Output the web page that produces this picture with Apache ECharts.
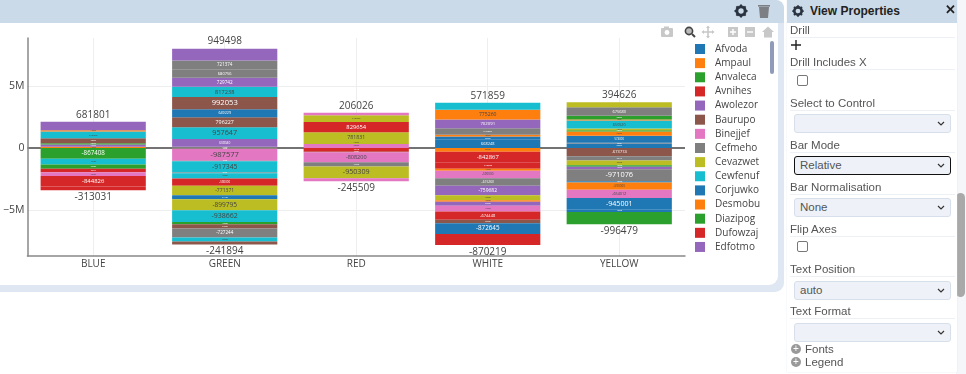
<!DOCTYPE html>
<html><head><meta charset="utf-8">
<script src="https://cdn.jsdelivr.net/npm/echarts@6/dist/echarts.min.js"></script>
<style>
html,body{margin:0;padding:0;background:#fff;overflow:hidden;width:966px;height:374px;font-family:"Liberation Sans",Arial,sans-serif;color:#555}
.abs{position:absolute}
#strip{left:0;top:0;width:784px;height:292px;background:#dfe7f2;border-radius:0 9px 9px 0}
#bar{left:0;top:0;width:784px;height:23px;background:#cbdae8;border-radius:0 8px 0 0}
#card{left:0;top:23px;width:778px;height:262px;background:#fff;border-radius:0 0 9px 0}
#chart{left:0;top:23px;width:778px;height:262px}
#side{left:787px;top:0;width:170px;height:372px;background:#fff;box-shadow:0 0 1px #cfd8e3}
#sideh{left:787px;top:0;width:170px;height:23px;background:#cbdae8;font-weight:bold;font-size:12px;color:#222;line-height:22px}
.lab{position:absolute;left:790px;width:165px;font-size:11.5px;line-height:14px;border-bottom:1px solid #edf0f4;color:#555;height:14px}
.sel{position:absolute;left:794px;width:155px;height:17px;background:#eef2f8;border:1px solid #d6dfea;border-radius:3px;font-size:11.5px;line-height:17px;color:#555;box-sizing:content-box;text-indent:5px}
.sel svg{position:absolute;right:5px;top:6px}
.chk{position:absolute;left:797px;width:9px;height:9px;border:1px solid #777;border-radius:2px;background:#fff}
.plus{position:absolute;left:791px;width:10px;height:10px;border-radius:50%;background:#999;color:#fff;font-size:10px;line-height:10px;text-align:center}
.tx{position:absolute;left:805px;font-size:11.5px;line-height:13px;color:#555}
#track{left:956px;top:0;width:10px;height:374px;background:#f4f6f9}
#thumb{left:956px;top:193px;width:9px;height:104px;background:#a9a9a9;border-radius:5px}
#lscroll{left:770px;top:41px;width:4px;height:33px;background:#8f9bb8;border-radius:2px}
</style></head><body>
<div class="abs" id="strip"></div><div class="abs" id="bar"></div><div class="abs" id="card"></div>
<div class="abs" id="chart"></div>
<div class="abs" id="lscroll"></div>
<svg class="abs" style="left:733px;top:3px" width="40" height="16" viewBox="0 0 40 16">
 <circle cx="8" cy="8" r="4.2" fill="none" stroke="#2b3440" stroke-width="3"/>
 <g stroke="#2b3440" stroke-width="2"><path d="M8 1.5V3.5M8 12.5V14.5M1.5 8H3.5M12.5 8H14.5M3.4 3.4L4.8 4.8M11.2 11.2L12.6 12.6M3.4 12.6L4.8 11.2M11.2 4.8L12.6 3.4"/></g>
 <path d="M26 4H36L35 15H27Z" fill="#7c7f83"/><rect x="25" y="2" width="12" height="1.6" fill="#7c7f83"/>
</svg>
<svg class="abs" style="left:660px;top:25px" width="116" height="14" viewBox="0 0 116 14">
 <rect x="1" y="3" width="12" height="9" rx="1" fill="#c8c8c8"/><rect x="4" y="1.5" width="5" height="2" fill="#c8c8c8"/><circle cx="7" cy="7.5" r="2.4" fill="#fff"/>
 <circle cx="29" cy="6" r="3.6" fill="#bbb" stroke="#444" stroke-width="1.6"/><path d="M32 9L35 12" stroke="#444" stroke-width="2"/>
 <path d="M48 1.5V12.5M42.5 7H53.5" stroke="#c8c8c8" stroke-width="1.6"/><path d="M46 3L48 0.5L50 3ZM46 11L48 13.5L50 11ZM44 5L41.5 7L44 9ZM52 5L54.5 7L52 9Z" fill="#c8c8c8"/>
 <rect x="68" y="2" width="10" height="10" fill="#c8c8c8"/><path d="M70 7H76M73 4V10" stroke="#fff" stroke-width="1.4"/>
 <rect x="85" y="2" width="10" height="10" fill="#c8c8c8"/><path d="M87 7H93" stroke="#fff" stroke-width="1.4"/>
 <path d="M102 7L108 1.5L114 7H112V12.5H104V7Z" fill="#c8c8c8"/>
</svg>
<div class="abs" id="track"></div><div class="abs" id="thumb"></div>
<div class="abs" id="side"></div>
<div class="abs" id="sideh"><svg style="position:absolute;left:4px;top:4px" width="14" height="14" viewBox="0 0 16 16"><circle cx="8" cy="8" r="4.2" fill="none" stroke="#2b3440" stroke-width="3"/><path stroke="#2b3440" stroke-width="2" d="M8 1.5V3.5M8 12.5V14.5M1.5 8H3.5M12.5 8H14.5M3.4 3.4L4.8 4.8M11.2 11.2L12.6 12.6M3.4 12.6L4.8 11.2M11.2 4.8L12.6 3.4"/></svg><span style="position:absolute;left:23px;top:0;white-space:nowrap">View Properties</span><span style="position:absolute;left:158px;top:-1px;font-size:13px">✕</span></div>
<div id="props"></div>
<script>
const categories = ['BLUE', 'GREEN', 'RED', 'WHITE', 'YELLOW'];
const yTicks = [-5000000, 0, 5000000];
const legendNames = ['Afvoda','Ampaul','Anvaleca','Avnihes','Awolezor','Baurupo','Binejjef','Cefmeho','Cevazwet','Cewfenuf','Corjuwko','Desmobu','Diazipog','Dufowzaj','Edfotmo'];
const palette = ['#1f77b4','#ff7f0e','#2ca02c','#d62728','#9467bd','#8c564b','#e377c2','#7f7f7f','#bcbd22','#17becf'];

// [series number, value], listed outward from zero
const blueUp = [[1,110000],[4,170000],[12,100000],[15,400000],[19,545000],[21,110000],[24,681801]];
const blueDown = [[2,-867408],[9,-457000],[22,-350000],[23,-283145],[26,-300000],[33,-844826],[43,-313031]];
const greenUp = [[7,110000],[14,608040],[19,957647],[25,796227],[30,649229],[35,992053],[39,817238],[44,729742],[47,680756],[57,721374],[64,949498]];
const greenDown = [[2,-40000],[6,-987577],[17,-40000],[29,-917345],[37,-50000],[49,-430000],[53,-580000],[58,-771371],[60,-311783],[68,-899795],[69,-938662],[72,-190000],[75,-340000],[77,-727244],[79,-320000],[85,-241894]];
const redUp = [[6,320000],[8,170000],[18,781831],[23,829654],[28,540000],[36,206026]];
const redDown = [[3,-295188],[5,-50000],[16,-808200],[17,-340000],[38,-950309],[46,-245509]];
const whiteUp = [[0,668248],[10,260000],[11,130000],[17,540000],[24,702091],[31,775260],[39,571859]];
const whiteDown = [[1,-300000],[3,-842867],[13,-540000],[21,-160000],[26,-590000],[27,-615260],[34,-759682],[38,-400000],[41,-130000],[44,-320000],[46,-460000],[53,-674448],[55,-280000],[60,-872645],[63,-870219]];
const yellowUp = [[0,370000],[7,50000],[10,574000],[11,345000],[12,100000],[18,130000],[19,650520],[21,70000],[22,320000],[27,675680],[28,394626]];
const yellowDown = [[5,-673774],[17,-337134],[38,-380000],[42,-130000],[44,-190000],[47,-971076],[50,-100000],[51,-590000],[56,-654012],[60,-945001],[70,-190000],[72,-996479]];

const stacks = [[blueUp,blueDown],[greenUp,greenDown],[redUp,redDown],[whiteUp,whiteDown],[yellowUp,yellowDown]];
const lightInk = new Set([1,6,8,9]);
const seriesCount = 86;
const cells = Array.from({length: seriesCount}, () => categories.map(() => null));
stacks.forEach((pair, c) => pair.forEach((list) => list.forEach(([s, v], k) => {
  const outer = k === list.length - 1;
  const px = Math.abs(v) / 80645;
  const size = Math.max(1.6, Math.min(8, 0.93 * px - 3.8));
  const ink = lightInk.has(s % 10) ? '#444' : '#fff';
  cells[s][c] = {
    value: v,
    label: outer
      ? {show: true, position: v > 0 ? 'top' : 'bottom', distance: 2, fontSize: 10, color: '#444'}
      : {show: true, position: 'inside', fontSize: size, color: ink}
  };
})));

const series = cells.map((data, s) => ({
  name: s < legendNames.length ? legendNames[s] : 'Series ' + (s + 1),
  type: 'bar', stack: 'all', barCategoryGap: '20%', data,
  itemStyle: {color: palette[s % 10]},
  label: {formatter: p => String(p.value), fontFamily: '"Open Sans"'},
  animation: false, silent: true
}));
const guide = (v, color, width) => ({yAxis: v, lineStyle: {color, width, type: 'solid'}});
series.unshift({
  name: 'guides', type: 'line', data: [], z: 0, silent: true, animation: false,
  markLine: {symbol: 'none', silent: true, animation: false, label: {show: false}, z: 0,
    data: yTicks.map(v => v === 0 ? guide(v, '#444', 1.5) : guide(v, '#eeeeee', 1))}
});

const chart = echarts.init(document.getElementById('chart'), null, {renderer: 'canvas'});
chart.setOption({
  animation: false,
  textStyle: {fontFamily: '"Open Sans"'},
  grid: {left: 26, top: 15, width: 659, height: 218, containLabel: false},
  legend: {
    data: legendNames, orient: 'vertical', left: 695, top: 21, padding: 0,
    itemWidth: 10, itemHeight: 10, itemGap: 4.14, icon: 'rect',
    textStyle: {fontSize: 10, lineHeight: 10, color: '#444', fontFamily: '"Open Sans"', padding: [0,0,0,5]}
  },
  xAxis: {
    type: 'category', data: categories,
    axisLine: {onZero: false, lineStyle: {color: '#888', width: 1.5}},
    axisTick: {show: false},
    axisLabel: {fontSize: 10, color: '#444', margin: 3},
    splitLine: {show: true, alignWithLabel: true, lineStyle: {color: '#eeeeee', width: 1}}
  },
  yAxis: {
    type: 'value', min: -8710000, max: 8870000,
    axisLine: {show: true, lineStyle: {color: '#888', width: 1.5}},
    axisTick: {show: false},
    splitLine: {show: false},
    axisLabel: {customValues: yTicks, fontSize: 10.5, color: '#444', margin: 3, showMinLabel: true, showMaxLabel: true,
      formatter: v => v === 0 ? '0' : (v < 0 ? '\u2212' : '') + Math.abs(v / 1e6) + 'M'}
  },
  series
});

// side panel form
const fields = [
  ['lab','Drill',23],['lab','Drill Includes X',55],['lab','Select to Control',96],['lab','Bar Mode',138],
  ['lab','Bar Normalisation',180],['lab','Flip Axes',222],['lab','Text Position',262],['lab','Text Format',304]];
const selects = [['',114,false],['Relative',156,true],['None',198,false],['auto',281,false],['',323,false]];
const checks = [75,241];
const chev = '<svg width="8" height="5" viewBox="0 0 8 5"><path d="M1 1L4 4L7 1" fill="none" stroke="#333" stroke-width="1.2"/></svg>';
const props = document.getElementById('props');
fields.forEach(([c,t,y]) => props.insertAdjacentHTML('beforeend', `<div class="${c}" style="top:${y}px">${t}</div>`));
selects.forEach(([t,y,on]) => props.insertAdjacentHTML('beforeend',
  `<div class="sel" style="top:${y}px;${on ? 'border:1.5px solid #111;' : ''}">${t}${chev}</div>`));
checks.forEach(y => props.insertAdjacentHTML('beforeend', `<div class="chk" style="top:${y}px"></div>`));
props.insertAdjacentHTML('beforeend', `<svg class="abs" style="left:790px;top:39px" width="12" height="12"><path d="M6 1V11M1 6H11" stroke="#222" stroke-width="1.4"/></svg>`);
[['Fonts',344],['Legend',357]].forEach(([t,y]) => props.insertAdjacentHTML('beforeend',
  `<div class="plus" style="top:${y}px">+</div><div class="tx" style="top:${y-1}px">${t}</div>`));
</script>
</body></html>
